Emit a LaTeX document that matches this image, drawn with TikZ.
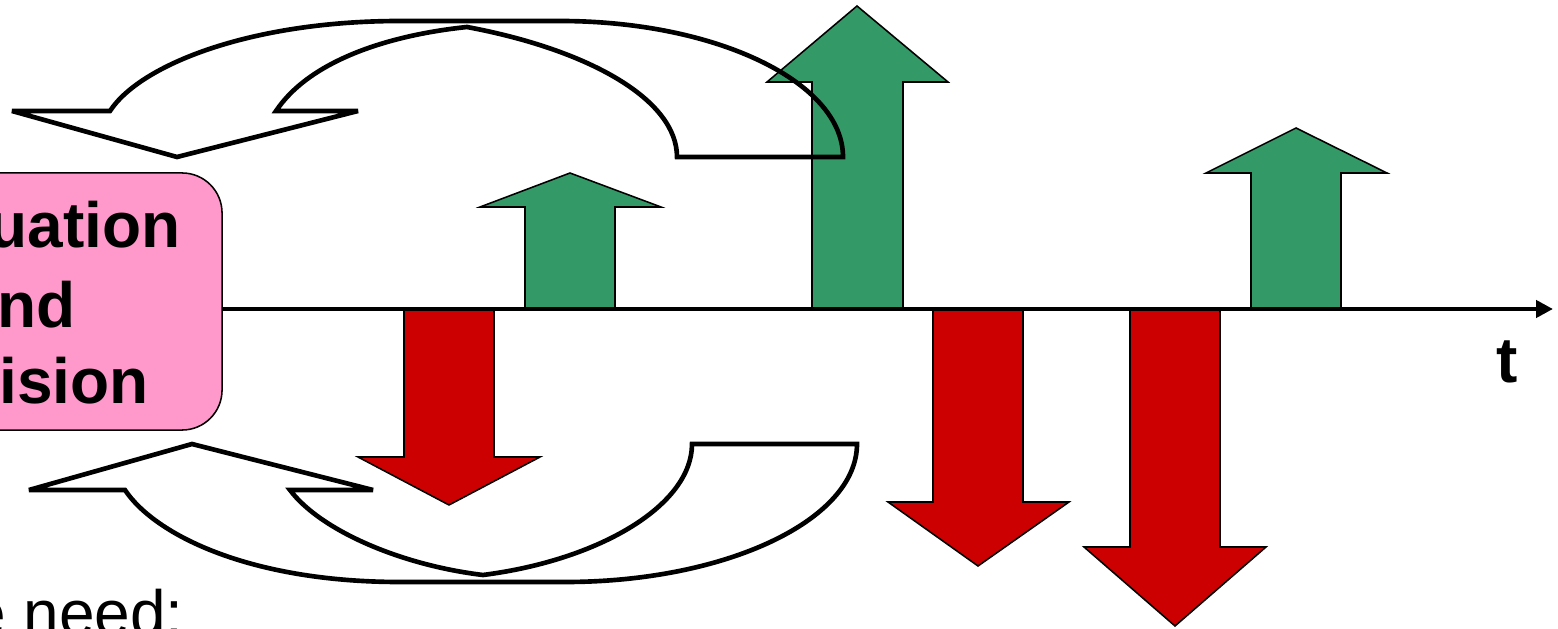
\documentclass[tikz,border=0pt]{standalone}
\usepackage{fontspec}
\setmainfont{Liberation Sans}
\usetikzlibrary{arrows.meta}
\definecolor{upgreen}{RGB}{51,153,102}
\definecolor{downred}{RGB}{204,0,0}
\definecolor{boxpink}{RGB}{255,153,204}
\tikzset{
  upar/.style={fill=upgreen, draw=black, line width=1.1pt, line join=miter},
  downar/.style={fill=downred, draw=black, line width=1.1pt, line join=miter},
  bendarrow/.style={draw=black, line width=3.3pt, line join=miter, miter limit=4},
  axisline/.style={draw=black, line width=3.2pt, -{Triangle[length=12pt,width=12pt]}},
  pinkbox/.style={rectangle, rounded corners=1cm, fill=boxpink, draw=black, line width=1.1pt,
    minimum width=10.15cm, minimum height=6.425cm, inner sep=0pt},
  bigtext/.style={font=\fontsize{45.5}{54}\selectfont\bfseries, inner sep=0pt},
  plaintext/.style={font=\fontsize{45.5}{54}\selectfont, inner sep=0pt},
}
\begin{document}
\begin{tikzpicture}[x=0.025cm,y=-0.025cm]
\useasboundingbox (0,0) rectangle (1558,629);
\begin{scope}
\clip (0,0) rectangle (1558,629);
% evaluation box
\node[pinkbox] (box) at (19,301.5) {};
% green up arrows
\path[upar] (525,309) -- (525,207) -- (480,207) -- (570,173) -- (661,207) -- (615,207) -- (615,309) -- cycle;
\path[upar] (812,309) -- (812,82) -- (767,82) -- (857,6) -- (948,82) -- (903,82) -- (903,309) -- cycle;
\path[upar] (1251,309) -- (1251,173) -- (1206,173) -- (1296,128) -- (1387,173) -- (1341,173) -- (1341,309) -- cycle;
% red down arrows
\path[downar] (404,309) -- (404,457) -- (358,457) -- (449,505) -- (540,457) -- (494,457) -- (494,309) -- cycle;
\path[downar] (933,309) -- (933,502) -- (888,502) -- (978,566) -- (1069,502) -- (1023,502) -- (1023,309) -- cycle;
\path[downar] (1130,309) -- (1130,547) -- (1084,547) -- (1175,626) -- (1266,547) -- (1220,547) -- (1220,309) -- cycle;
% time axis
\coordinate (axe) at (1553,309);
\draw[axisline] (box.east |- axe) -- (axe);
% curved arrows
\path[bendarrow] (843,157) .. controls (843,82) and (716,21) .. (560,21) -- (400,21)
  .. controls (250,21) and (140,65) .. (110,111) -- (12,111) -- (177,157) -- (358,111) -- (276,111)
  .. controls (310,60) and (390,35) .. (467,27)
  .. controls (590,50) and (677,100) .. (677,157) -- cycle;
\path[bendarrow] (857,444) .. controls (857,520) and (726,582) .. (565,582) -- (400,582)
  .. controls (250,582) and (155,535) .. (125,490) -- (29,490) -- (192,444) -- (373,490) -- (290,490)
  .. controls (320,530) and (400,565) .. (483,575)
  .. controls (600,560) and (692,505) .. (692,444) -- cycle;
% texts
\node[bigtext, anchor=base east] (l1) at (181,248) {uation};
\node[bigtext, anchor=base east] (l2) at (76,327) {nd};
\node[bigtext, anchor=base east] (l3) at (149,403) {ision};
\node[bigtext, anchor=base] (tl) at (1507,382) {t};
\node[plaintext, anchor=base west] (need) at (-30,635) {e need:};
\end{scope}
\end{tikzpicture}
\end{document}
